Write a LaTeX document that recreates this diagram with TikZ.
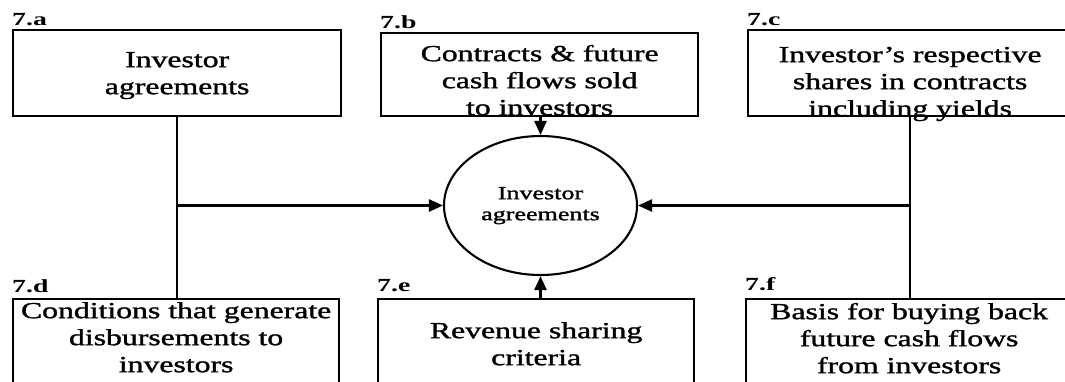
\documentclass[tikz,border=0pt]{standalone}
\usepackage{fontspec}
\setmainfont{Liberation Serif}
% slightly heavier face for the box texts
\newfontfamily\heavyserif{Liberation Serif}[BoldFont=Liberation Serif, BoldFeatures={FakeBold=1.2}]
\usetikzlibrary{arrows.meta,shapes.geometric}

% centred lines of box text, stretched sideways; baseline = first line
\newcommand{\boxlines}[1]{\scalebox{1.38}[1]{\begin{tabular}[t]{@{}c@{}}#1\end{tabular}}}
\newcommand{\hublines}[1]{\scalebox{1.4}[1]{\begin{tabular}{@{}c@{}}#1\end{tabular}}}
\newcommand{\tagtext}[1]{\scalebox{1.5}[1]{#1}}

\begin{document}
\begin{tikzpicture}[x=1pt,y=-1pt,
  stepbox/.style={draw, line width=2.3pt, inner sep=0pt, anchor=north west,
    font=\fontsize{23}{27}\selectfont\heavyserif\bfseries},
  hub/.style={draw, ellipse, line width=2.1pt, inner sep=0pt,
    minimum width=193pt, minimum height=139pt, font=\fontsize{18.6}{21}\selectfont\heavyserif\bfseries},
  tag/.style={inner sep=0pt, anchor=base west, font=\fontsize{18.5}{20}\selectfont\bfseries},
  link/.style={line width=2.5pt},
  feed/.style={link, -{Triangle[length=14pt,width=12pt]}}]

\useasboundingbox (0,0) rectangle (1065,381);
\fill[white] (0,0) rectangle (1065,381);
\clip (0,0) rectangle (1065,381);

% top row
\node[stepbox, minimum width=328pt, text height=37pt, text depth=49pt] (a) at (12,29)
  {\boxlines{Investor\\agreements}};
\node[stepbox, minimum width=317pt, text height=28pt, text depth=55pt] (b) at (380,32)
  {\boxlines{Contracts \& future\\cash flows sold\\to investors}};
\node[stepbox, minimum width=324pt, text height=32pt, text depth=54pt] (c) at (747,29)
  {\boxlines{Investor’s respective\\shares in contracts\\including yields}};

% bottom row
\node[stepbox, minimum width=326pt, text height=19pt, text depth=130pt] (d) at (12,298)
  {\boxlines{Conditions that generate\\disbursements to\\investors}};
\node[stepbox, minimum width=316pt, text height=39pt, text depth=110pt] (e) at (377,298)
  {\boxlines{Revenue sharing\\criteria}};
\node[stepbox, minimum width=326pt, text height=20pt, text depth=130pt] (f) at (745,298)
  {\boxlines{Basis for buying back\\future cash flows\\from investors}};

% box tags
\node[tag] (la) at ([yshift=4pt]a.north west) {\tagtext{7.a}};
\node[tag] (lb) at ([yshift=4pt]b.north west) {\tagtext{7.b}};
\node[tag] (lc) at ([yshift=4pt]c.north west) {\tagtext{7.c}};
\node[tag] (ld) at ([yshift=6pt]d.north west) {\tagtext{7.d}};
\node[tag] (le) at ([yshift=7pt]e.north west) {\tagtext{7.e}};
\node[tag] (lf) at ([yshift=8pt]f.north west) {\tagtext{7.f}};

% central process
\node[hub] (hub) at (540.5,205.5) {\hublines{Investor\\agreements}};

% connectors
\draw[link] (a.south) -- (a.south |- d.north);
\draw[feed] (a.south |- hub.west) -- (hub.west);
\draw[link] (c.south) -- (c.south |- f.north);
\draw[feed] (c.south |- hub.east) -- (hub.east);
\draw[feed] (hub.north |- b.south) -- (hub.north);
\draw[feed] (hub.south |- e.north) -- (hub.south);
\end{tikzpicture}
\end{document}
